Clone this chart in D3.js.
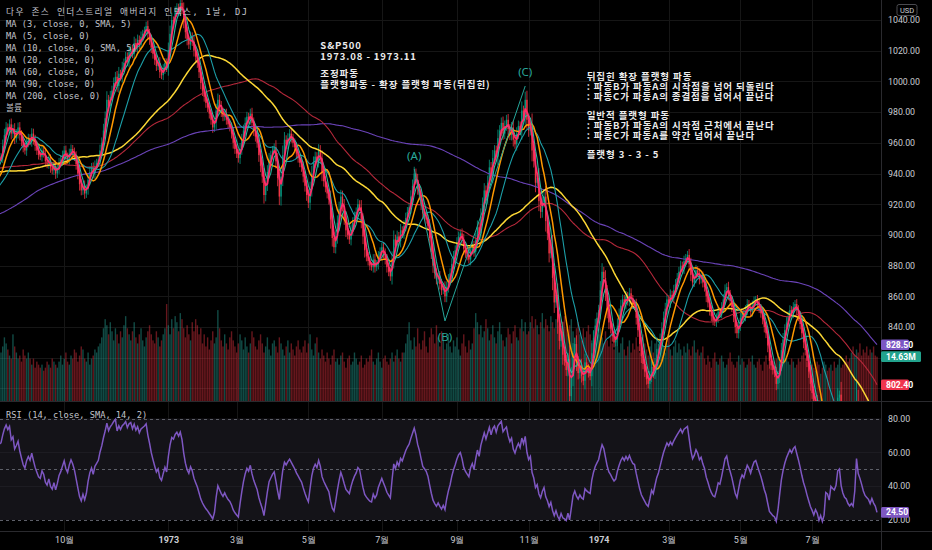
<!DOCTYPE html>
<html>
<head>
<meta charset="utf-8">
<script src="https://cdn.jsdelivr.net/npm/d3@7"></script>
<style>
  html, body { margin: 0; padding: 0; background: #000; }
  svg { display: block; }
</style>
</head>
<body>
<svg id="chart" width="932" height="550"></svg>
<script>
// ---------- data ----------
// closes before the visible window (Oct 1971 - Aug 8 1972), only used to warm up the MAs / RSI
const preClose = [
  868,862,855,850,842,
  845,840,836,838,832,828,825,820,822,815,812,808,803,810,806,798,812,829,831,838,842,
  846,852,855,858,855,851,856,860,864,870,872,868,874,878,876,881,884,880,883,887,890,889,
  892,895,898,904,907,910,906,903,908,911,913,910,906,904,899,902,905,900,903,907,
  905,909,912,915,917,914,918,920,916,913,915,919,921,918,914,917,920,924,927,928,
  930,933,938,941,944,942,946,945,940,937,941,944,947,942,939,936,934,938,942,946,944,941,940,
  945,949,954,957,959,956,961,963,958,960,955,951,948,953,956,951,946,943,949,
  954,950,946,940,935,932,928,934,939,944,948,952,955,958,962,966,969,971,965,968,963,960,
  961,957,952,948,944,948,951,945,940,938,936,941,939,934,930,933,937,935,932,928,930,929,
  931,936,939,934,930,926,923,927,932,936,930,925,921,918,923,928,933,929,926,931,
  935,938,943,946,948,950
];

// daily closes, Aug 9 1972 - Aug 23 1974
const close = [
  951,958,965,970,968,972,966,969,963,966, 970,965,961,957,955,960,963,961,966,962,
  958,955,952,951,955,953,948,946,949,944, 942,945,940,943,947,949,952,955,951,949,
  953,956,954,951,946,940,933,929,932,927, 930,936,941,944,940,945,947,949,955,
  960,968,976,988,984,990,994,999,1003,997, 1005,1003,1009,1012,1016,1013,1019,1021,1018,1025,
  1022,1027,1024,1029,1031,1033,1036,1031,1027,1022, 1018,1014,1010,1012,1006,1004,1008,1012,1009,1020,
  1031,1040,1039,1045,1048,1046,1051,1047,1039,1032, 1027,1024,1029,1026,1020,1016,1012,1006,999,
  994,990,986,983,979,975,970,973,981,988, 984,980,977,979,975,972,970,966,960,956,
  953,950,956,962,968,973,977,975,979,973, 968,964,960,952,945,938,926,933,941,949,
  952,955,957,948,937,925,938,952,962,959, 963,966,963,960,957,953,950,947,944,938,
  932,926,
  921,930,940,947,951,948,955,950,940,935, 931,927,923,910,898,892,899,908,917,925,
  919,911,903,900,897,903,908,912,915,920, 918,909,899,890,886,883,880,879,884,879,
  881,886,889,892,888,884,879,876,873,884, 897,893,899,896,903,901,906,911,915,918,
  925,932,940,936,
  930,926,920,914,912,910,906,898,889,880, 875,871,873,868,864,866,860,866,871,875,
  881,886,890,895,899,901,897,891,888,886, 884,890,893,889,897,905,901,912,920,929,
  925,934,944,939,950,955,951,963,968,973, 966,971,975,969,965,970,962,959,966,971,
  968,981,977,988,975,
  968,972,955,948,934,937,922,915,921,925, 909,901,888,892,872,856,861,843,831,837,
  822,818,812,819,795,808,823,829,817,810, 815,808,805,817,813,810,808,823,833,841,
  846,
  851,864,876,872,862,851,843,839,834,830, 832,841,848,854,858,855,860,857,862,858,
  855,854,846,838,829,821,816,811,806,803, 808,814,810,816,822,826,832,839,846,852,
  858,856,861,859,864,868,872,876,880,878, 883,885,887,881,874,869,872,877,875,871,
  873,869,
  866,860,856,851,847,844,843,846,850,849, 853,858,864,866,861,857,853,847,840,836,
  841,846,849,847,851,855,853,850,854,857, 858,855,852,849,845,840,836,828,818,815,
  812,810,803,808,816,825,832,838,843,847, 851,849,853,855,851,847,842,836,830,825,
  818,811,803,
  797,789,792,786,771,774,760,764,781,779, 769,781,778,776,780,794,796,775,763,755,
  752,743,738,740,735,748,790,766,757,745, 730,719,714,709,698,704,692,684,664
];

// daily volume, millions of shares
const volume = [
  16,18,21,19,17,15,14,22,18,16,14,15,13,17,15,14,16,14,
  12,14,11,13,12,11,12,10,11,13,12,11,14,13,12,11,13,15,12,14,16,13,12,15,14,17,16,13,15,18,17,14,13,16,12,14,15,17,16,18,19,
  21,24,27,25,22,26,23,20,24,22,19,23,21,25,28,24,22,20,23,26,21,19,22,24,20,18,21,23,25,22,20,19,23,21,18,20,22,24,32,
  25,22,27,24,28,26,23,29,27,24,21,25,22,20,26,23,27,25,22,24,
  19,22,18,21,17,20,23,19,21,30,24,20,18,22,19,17,21,23,20,18,16,19,22,20,17,21,18,16,19,23,
  21,18,17,20,22,19,16,18,21,17,15,19,20,18,16,21,19,17,15,18,20,16,19,17,15,18,20,17,16,
  18,20,16,19,22,17,15,19,21,16,14,17,15,13,16,14,12,15,17,13,14,12,15,16,13,11,14,15,12,13,
  16,14,12,13,15,11,12,14,13,15,17,13,12,14,16,13,11,14,15,13,12,14,16,13,15,17,14,13,16,
  16,19,22,26,20,17,21,18,24,19,17,20,23,18,16,21,24,22,19,25,21,18,23,20,17,19,22,18,16,20,
  18,21,17,15,19,22,18,16,20,17,19,
  24,29,26,22,25,21,23,27,24,20,22,25,21,19,23,26,22,20,18,21,24,22,19,23,25,21,20,24,27,23,26,22,
  23,26,28,24,27,25,22,26,29,24,27,25,23,28,26,24,27,29,25,23,26,28,24,22,25,27,23,21,24,26,
  22,20,24,21,23,25,22,20,23,21,24,
  22,24,21,19,23,20,18,22,19,17,20,18,16,19,21,17,15,18,20,16,19,17,21,18,16,20,22,19,17,15,
  18,20,16,19,21,17,20,22,18,16,19,21,17,15,18,20,16,19,17,15,18,16,19,17,15,18,20,16,17,15,16,18,
  14,12,15,13,11,14,16,13,12,14,15,13,11,12,14,16,13,12,11,13,15,12,14,13,11,12,14,13,15,12,
  11,13,14,12,10,13,15,12,11,14,13,12,14,16,13,12,15,17,14,13,12,14,13,11,12,14,13,15,16,14,13,15,12,
  12,11,10,13,12,9,11,13,12,10,11,12,10,13,11,12,14,11,12,13,15,13,14,16,18,15,17,16,19,15,
  17,16,18,15,17,16,18,15,14.63
];

const holidays = [
  "1972-09-04","1972-11-07","1972-11-23","1972-12-25","1972-12-28",
  "1973-01-01","1973-01-25","1973-02-19","1973-04-20","1973-05-28","1973-07-04",
  "1973-09-03","1973-11-22","1973-12-25",
  "1974-01-01","1974-02-18","1974-04-12","1974-05-27","1974-07-04"
];

const tickMonths = ["1972-10","1973-01","1973-03","1973-05","1973-07","1973-09","1973-11",
                    "1974-01","1974-03","1974-05","1974-07"];
const tickLabels = ["10월","1973","3월","5월","7월","9월","11월","1974","3월","5월","7월"];
const priceTicks = [800,820,840,860,880,900,920,940,960,980,1000,1020,1040];
const priceLabelTicks = [840,860,880,900,920,940,960,980,1000,1020,1040];   // 800/820 sit under the badges
const rsiTicks = [20,40,60,80];

const maLengths = [3,5,10,20,60,90,200];
const legendLines = [
  "다우 존스 인더스트리얼 애버리지 인덱스, 1날, DJ",
  "MA (3, close, 0, SMA, 5)",
  "MA (5, close, 0)",
  "MA (10, close, 0, SMA, 5)",
  "MA (20, close, 0)",
  "MA (60, close, 0)",
  "MA (90, close, 0)",
  "MA (200, close, 0)",
  "볼륨"
];

// wave count drawn on the chart: bar index and price of A, B, C
const waveNames = ["(A)","(B)","(C)"];
const waveIdx = [242, 260, 307];
const wavePrice = [943, 844, 997];

// text notes, anchored at bar index / price
const noteAnchors = [[187, 1024], [343, 1003.5]];
const noteLines = [
  ["S&P500", "1973.08 - 1973.11", "", "조정파동", "플랫형파동 - 확장 플랫형 파동(뒤집힌)"],
  ["뒤집힌 확장 플랫형 파동", ": 파동B가 파동A의 시작점을 넘어 되돌린다", ": 파동C가 파동A의 종결점을 넘어서 끝난다", "",
   "일반적 플랫형 파동", ": 파동B가 파동A의 시작점 근처에서 끝난다", ": 파동C가 파동A를 약간 넘어서 끝난다", "",
   "플랫형 3 - 3 - 5"]
];

// ---------- helpers ----------
const all = preClose.concat(close);
const off = preClose.length;

const sma = (src, n) => src.map((_, i) => i < n - 1 ? null : d3.mean(src.slice(i - n + 1, i + 1)));

function rsi(src, n) {
  const out = src.map(() => null);
  let up = 0, dn = 0;
  for (let i = 1; i < src.length; i++) {
    const ch = src[i] - src[i - 1];
    const u = Math.max(ch, 0), d = Math.max(-ch, 0);
    if (i <= n) {
      up += u / n; dn += d / n;
    } else {
      up = (up * (n - 1) + u) / n;
      dn = (dn * (n - 1) + d) / n;
    }
    if (i >= n) out[i] = dn === 0 ? 100 : 100 - 100 / (1 + up / dn);
  }
  return out;
}

// trading days for the visible bars
const fmtDay = d3.timeFormat("%Y-%m-%d"), fmtMonth = d3.timeFormat("%Y-%m");
const dates = [];
for (let d = new Date(1972, 7, 9); dates.length < close.length; d = d3.timeDay.offset(d, 1)) {
  const wd = d.getDay();
  if (wd === 0 || wd === 6 || holidays.includes(fmtDay(d))) continue;
  dates.push(d);
}
const tickIdx = tickMonths.map(m => dates.findIndex(d => fmtMonth(d) === m));

// ---------- layout ----------
const W = 932, H = 550;
const PW = 881;          // plot right edge
const MAIN_B = 401;      // main pane bottom
const RSI_B = 531;       // rsi pane bottom

const x = d3.scaleLinear().domain([0, close.length - 1]).range([1, 877]);
const y = d3.scaleLinear().domain([792.5, 1053]).range([400, 0]);
const yVol = d3.scaleLinear().domain([0, 33]).range([401, 301]);
const yRsi = d3.scaleLinear().domain([20, 80]).range([520, 418.5]);

const svg = d3.select("#chart");
svg.append("rect").attr("width", W).attr("height", H).attr("fill", "#000");

const defs = svg.append("defs");
defs.append("clipPath").attr("id", "clipMain")
  .append("rect").attr("x", 0).attr("y", 0).attr("width", PW).attr("height", MAIN_B);
defs.append("clipPath").attr("id", "clipRsi")
  .append("rect").attr("x", 0).attr("y", MAIN_B + 1).attr("width", PW).attr("height", RSI_B - MAIN_B - 1);

// grid
const grid = svg.append("g").attr("stroke", "#161616").attr("stroke-width", 1);
grid.selectAll("line.v").data(tickIdx).join("line")
  .attr("x1", d => Math.round(x(d)) + 0.5).attr("x2", d => Math.round(x(d)) + 0.5)
  .attr("y1", 0).attr("y2", RSI_B);
grid.selectAll("line.h").data(priceTicks).join("line")
  .attr("x1", 0).attr("x2", PW)
  .attr("y1", d => Math.round(y(d)) + 0.5).attr("y2", d => Math.round(y(d)) + 0.5);

// ---------- main pane ----------
const main = svg.append("g").attr("clip-path", "url(#clipMain)");

const bars = close.map((c, i) => {
  const o = all[i + off - 1];
  const body = Math.abs(c - o);
  return { i, o, c, hi: Math.max(o, c) + 0.3 * body + 2, lo: Math.min(o, c) - 0.3 * body - 2, up: c >= o };
});

// volume
main.append("g").selectAll("rect").data(bars).join("rect")
  .attr("x", d => x(d.i) - 0.7)
  .attr("width", 1.4)
  .attr("y", d => yVol(volume[d.i]))
  .attr("height", d => yVol(0) - yVol(volume[d.i]))
  .attr("fill", d => d.up ? "rgba(38,166,154,0.45)" : "rgba(242,54,69,0.42)");

// candles
const candles = main.append("g");
candles.selectAll("line").data(bars).join("line")
  .attr("x1", d => x(d.i)).attr("x2", d => x(d.i))
  .attr("y1", d => y(d.hi)).attr("y2", d => y(d.lo))
  .attr("stroke", d => d.up ? "#089981" : "#f23645")
  .attr("stroke-width", 0.8);
candles.selectAll("rect").data(bars).join("rect")
  .attr("x", d => x(d.i) - 0.65)
  .attr("width", 1.3)
  .attr("y", d => y(Math.max(d.o, d.c)))
  .attr("height", d => Math.max(0.8, Math.abs(y(d.o) - y(d.c))))
  .attr("fill", d => d.up ? "#089981" : "#f23645");

// moving averages
const maStyle = {
  3:   { color: "#ff2d6b", w: 1.8 },
  5:   { color: "#2bb89f", w: 1.1 },
  10:  { color: "#ff9800", w: 1.5 },
  20:  { color: "#1c9fa8", w: 1.1 },
  60:  { color: "#fdd835", w: 1.5 },
  90:  { color: "#b4283a", w: 1.1 },
  200: { color: "#6a43b8", w: 1.1 }
};
const maSeries = {};
maLengths.forEach(n => { maSeries[n] = sma(all, n); });
const idx = d3.range(-1, close.length);
const maG = main.append("g").attr("fill", "none");
[200, 90, 60, 20, 10, 5, 3].forEach(n => {
  const s = maSeries[n];
  maG.append("path")
    .attr("d", d3.line().defined(i => s[i + off] != null).x(i => x(i)).y(i => y(s[i + off]))(idx))
    .attr("stroke", maStyle[n].color)
    .attr("stroke-width", maStyle[n].w)
    .attr("stroke-linejoin", "round");
});

// wave lines A-B-C
main.append("path")
  .attr("d", d3.line().x(k => x(waveIdx[k])).y(k => y(wavePrice[k]))(d3.range(waveIdx.length)))
  .attr("fill", "none").attr("stroke", "#26a69a").attr("stroke-width", 1);
const waveDy = [-13, 16, -14];
svg.append("g").selectAll("text").data(waveNames).join("text")
  .attr("x", (d, k) => x(waveIdx[k]))
  .attr("y", (d, k) => y(wavePrice[k]) + waveDy[k])
  .attr("text-anchor", "middle").attr("dominant-baseline", "central")
  .attr("font-family", "Noto Sans, sans-serif").attr("font-size", 11.5)
  .attr("fill", "#2aa99b")
  .text(d => d);

// notes
const noteDy = [[0, 11, 0, 28, 39], [0, 9.8, 19.6, 0, 39.2, 49, 58.8, 0, 78.4]];
noteLines.forEach((lines, b) => {
  const g = svg.append("g")
    .attr("font-family", "Noto Sans CJK KR, Noto Sans, sans-serif")
    .attr("font-size", 9.5).attr("letter-spacing", 0.9)
    .attr("font-weight", "bold").attr("fill", "#ececec");
  lines.forEach((t, k) => {
    if (!t) return;
    g.append("text")
      .attr("x", x(noteAnchors[b][0]))
      .attr("y", y(noteAnchors[b][1]) + noteDy[b][k])
      .attr("dominant-baseline", "central")
      .text(t);
  });
});

// ---------- rsi pane ----------
const rsiVals = rsi(all, 14);
const rsiG = svg.append("g").attr("clip-path", "url(#clipRsi)");
rsiG.append("rect").attr("x", 0).attr("width", PW)
  .attr("y", yRsi(80)).attr("height", yRsi(20) - yRsi(80)).attr("fill", "#141318");
rsiG.selectAll("line.g").data([40, 60]).join("line")
  .attr("x1", 0).attr("x2", PW)
  .attr("y1", d => Math.round(yRsi(d)) + 0.5).attr("y2", d => Math.round(yRsi(d)) + 0.5)
  .attr("stroke", "#1d1c22");
rsiG.selectAll("line.d").data([80, 50, 20]).join("line")
  .attr("x1", 0).attr("x2", PW)
  .attr("y1", d => Math.round(yRsi(d)) + 0.5).attr("y2", d => Math.round(yRsi(d)) + 0.5)
  .attr("stroke", "#5d5f68").attr("stroke-dasharray", "3,3");
rsiG.append("path")
  .attr("d", d3.line().defined(i => rsiVals[i + off] != null).x(i => x(i)).y(i => yRsi(rsiVals[i + off]))(idx))
  .attr("fill", "none").attr("stroke", "#7e57c2").attr("stroke-width", 1.5);

// ---------- separators ----------
const sep = svg.append("g").attr("stroke", "#2a2a2e");
sep.append("line").attr("x1", 0).attr("x2", W).attr("y1", MAIN_B + 0.5).attr("y2", MAIN_B + 0.5);
sep.append("line").attr("x1", 0).attr("x2", W).attr("y1", RSI_B + 0.5).attr("y2", RSI_B + 0.5);
sep.append("line").attr("x1", PW + 0.5).attr("x2", PW + 0.5).attr("y1", 0).attr("y2", H);

// ---------- legends ----------
const legend = svg.append("g")
  .attr("font-family", "DejaVu Sans Mono, Noto Sans CJK KR, monospace")
  .attr("font-size", 8.7).attr("fill", "#c3c5cc");
legend.selectAll("text").data(legendLines).join("text")
  .attr("x", 6).attr("y", (d, k) => 12 + k * 12)
  .attr("dominant-baseline", "central")
  .text(d => d);
legend.select("text").attr("textLength", 241).attr("lengthAdjust", "spacing");
legend.append("text").attr("x", 6).attr("y", 414.7).attr("dominant-baseline", "central")
  .text("RSI (14, close, SMA, 14, 2)");

// ---------- axes ----------
const axisFont = "Roboto, Liberation Sans, sans-serif";
const pAxis = svg.append("g").attr("transform", `translate(${PW},0)`)
  .call(d3.axisRight(y).tickValues(priceLabelTicks).tickFormat(d3.format(".2f")).tickSize(0).tickPadding(7));
pAxis.select(".domain").remove();
pAxis.selectAll("text").attr("font-family", axisFont).attr("font-size", 8.8).attr("fill", "#c9cbd1");

const rAxis = svg.append("g").attr("transform", `translate(${PW},0)`)
  .call(d3.axisRight(yRsi).tickValues(rsiTicks).tickFormat(d3.format(".2f")).tickSize(0).tickPadding(7));
rAxis.select(".domain").remove();
rAxis.selectAll("text").attr("font-family", axisFont).attr("font-size", 8.8).attr("fill", "#c9cbd1");

const xAxis = svg.append("g").attr("transform", `translate(0,${RSI_B})`)
  .call(d3.axisBottom(x).tickValues(tickIdx).tickFormat((d, k) => tickLabels[k]).tickSize(0).tickPadding(6));
xAxis.select(".domain").remove();
xAxis.selectAll("text").attr("font-family", axisFont).attr("font-size", 9).attr("fill", "#c9cbd1")
  .attr("font-weight", (d, k) => /^\d{4}$/.test(tickLabels[k]) ? "bold" : "normal");

// USD badge
svg.append("rect").attr("x", 897).attr("y", 4.5).attr("width", 20).attr("height", 11).attr("rx", 2)
  .attr("fill", "none").attr("stroke", "#4a4a4f");
svg.append("text").attr("x", 907).attr("y", 10.3).attr("text-anchor", "middle").attr("dominant-baseline", "central")
  .attr("font-family", axisFont).attr("font-size", 7.5).attr("fill", "#c9cbd1").text("USD");

// last-value badges
const last = all.length - 1;
const lastVol = volume[volume.length - 1];
const badges = [
  { yy: y(maSeries[200][last]), text: maSeries[200][last].toFixed(2), fill: "#7b57c4", w: 28 },
  { yy: yVol(lastVol), text: lastVol.toFixed(2) + "M", fill: "#22a38d", w: 40 },
  { yy: y(maSeries[90][last]), text: maSeries[90][last].toFixed(2), fill: "#f0344d", w: 28 },
  { yy: yRsi(rsiVals[last]), text: rsiVals[last].toFixed(2), fill: "#7e57c2", w: 28 }
];
const bg = svg.append("g");
badges.forEach(b => {
  bg.append("rect").attr("x", PW).attr("y", b.yy - 5.3).attr("width", b.w).attr("height", 10.6).attr("rx", 1.5)
    .attr("fill", b.fill);
  bg.append("text").attr("x", PW + 5).attr("y", b.yy).attr("dominant-baseline", "central")
    .attr("font-family", axisFont).attr("font-size", 8.6).attr("font-weight", "bold").attr("fill", "#fff")
    .text(b.text);
});
</script>
</body>
</html>
